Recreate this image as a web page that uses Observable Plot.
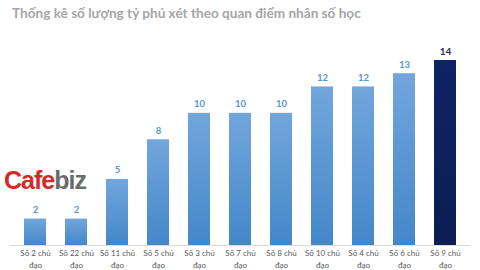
<!DOCTYPE html>
<html>
<head>
<meta charset="utf-8">
<script src="https://cdn.jsdelivr.net/npm/d3@7"></script>
<script src="https://cdn.jsdelivr.net/npm/@observablehq/plot@0.6"></script>
<style>
  html, body { margin: 0; padding: 0; background: #fff; }
  #wrap { position: relative; width: 480px; height: 270px; overflow: hidden; }
  #title { position: absolute; left: 12px; top: 5px; font-family: Lato, "Open Sans", sans-serif; font-weight: bold; font-size: 13.6px; color: #a6a6a6; white-space: nowrap; }
  #logo { position: absolute; left: 4px; top: 166px; font-family: "Liberation Sans", Arial, sans-serif; font-weight: bold; font-size: 25px; letter-spacing: -1px; white-space: nowrap; }
  #logo .c { color: #d42a2a; }
  #logo .b { color: #6b6b6b; }
</style>
</head>
<body>
<div id="wrap">
  <div id="chart"></div>
  <div id="title">Thống kê số lượng tỷ phú xét theo quan điểm nhân số học</div>
  <div id="logo"><span class="c">Cafe</span><span class="b">biz</span></div>
</div>
<script>
const categories = ["Số 2 chủ đạo", "Số 22 chủ đạo", "Số 11 chủ đạo", "Số 5 chủ đạo", "Số 3 chủ đạo", "Số 7 chủ đạo", "Số 8 chủ đạo", "Số 10 chủ đạo", "Số 4 chủ đạo", "Số 6 chủ đạo", "Số 9 chủ đạo"];
const labelLine1 = ["Số 2 chủ", "Số 22 chủ", "Số 11 chủ", "Số 5 chủ", "Số 3 chủ", "Số 7 chủ", "Số 8 chủ", "Số 10 chủ", "Số 4 chủ", "Số 6 chủ", "Số 9 chủ"];
const labelLine2 = ["đạo", "đạo", "đạo", "đạo", "đạo", "đạo", "đạo", "đạo", "đạo", "đạo", "đạo"];
const values = [2, 2, 5, 8, 10, 10, 10, 12, 12, 13, 14];
const highlight = "Số 9 chủ đạo";

const rows = categories.map((c, i) => ({cat: c, value: values[i], l1: labelLine1[i], l2: labelLine2[i]}));
const normalRows = rows.filter(d => d.cat !== highlight);
const topRows = rows.filter(d => d.cat === highlight);

const chart = Plot.plot({
  width: 480,
  height: 270,
  marginTop: 60,
  marginBottom: 25,
  marginLeft: 10,
  marginRight: 10,
  style: {fontFamily: "Lato, 'Open Sans', sans-serif", background: "transparent"},
  x: {domain: categories, paddingInner: 0.47, paddingOuter: 0.235, label: null, axis: null},
  y: {domain: [0, 14], axis: null},
  marks: [
    Plot.barY(normalRows, {x: "cat", y: "value", fill: "url(#gBlue)"}),
    Plot.barY(topRows, {x: "cat", y: "value", fill: "url(#gNavy)"}),
    Plot.ruleY([0], {stroke: "#d9d9d9", strokeWidth: 1}),
    Plot.text(normalRows, {x: "cat", y: "value", text: d => String(d.value), dy: -9, fill: "#5596d8", fontWeight: "bold", fontSize: 9.5}),
    Plot.text(topRows, {x: "cat", y: "value", text: d => String(d.value), dy: -9, fill: "#1f2d5a", fontWeight: "bold", fontSize: 10}),
    Plot.text(rows, {x: "cat", y: 0, text: "l1", dy: 8, fill: "#595959", fontSize: 8, textAnchor: "middle", lineAnchor: "middle"}),
    Plot.text(rows, {x: "cat", y: 0, text: "l2", dy: 19.5, fill: "#595959", fontSize: 8, textAnchor: "middle", lineAnchor: "middle"})
  ]
});

const defs = d3.select(chart).insert("defs", ":first-child");
const g1 = defs.append("linearGradient").attr("id", "gBlue").attr("x1", 0).attr("y1", 0).attr("x2", 0).attr("y2", 1);
g1.append("stop").attr("offset", "0%").attr("stop-color", "#72a6dc");
g1.append("stop").attr("offset", "100%").attr("stop-color", "#4487c9");
const g2 = defs.append("linearGradient").attr("id", "gNavy").attr("x1", 0).attr("y1", 0).attr("x2", 0).attr("y2", 1);
g2.append("stop").attr("offset", "0%").attr("stop-color", "#0f2466");
g2.append("stop").attr("offset", "100%").attr("stop-color", "#0b1d52");

document.getElementById("chart").appendChild(chart);
</script>
</body>
</html>
